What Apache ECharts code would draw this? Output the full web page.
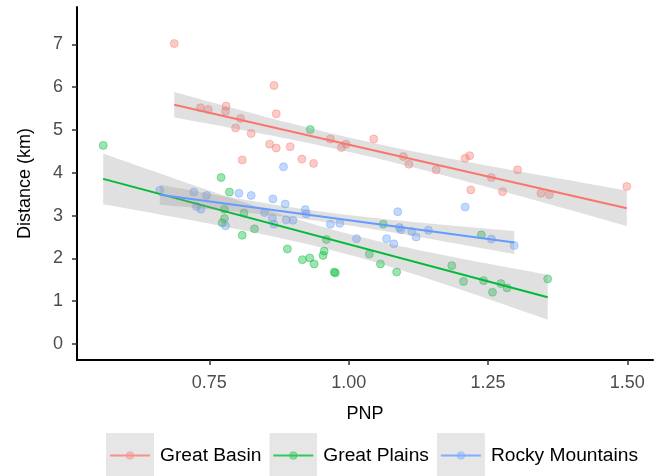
<!DOCTYPE html>
<html><head><meta charset="utf-8">
<script src="https://cdn.jsdelivr.net/npm/echarts@6/dist/echarts.min.js"></script>
<style>html,body{margin:0;padding:0;background:#fff}#c{width:662px;height:476px}</style>
</head><body><div id="c"></div>
<script>
// ---- data ----
const regions = ['Great Basin', 'Great Plains', 'Rocky Mountains'];
const colors = ['#F8766D', '#00BA38', '#619CFF'];

const basinX = [0.687,0.866,0.734,0.748,0.780,0.779,0.806,0.870,0.797,0.825,0.858,0.870,0.895,0.967,0.987,0.995,1.045,0.809,0.916,0.937,1.098,1.108,1.157,1.209,1.217,1.219,1.256,1.276,1.303,1.345,1.360,1.499];
const basinY = [7.02,6.04,5.52,5.48,5.56,5.44,5.27,5.38,5.05,4.92,4.67,4.58,4.61,4.79,4.59,4.67,4.79,4.30,4.32,4.22,4.38,4.20,4.07,4.34,4.40,3.60,3.89,3.56,4.07,3.52,3.49,3.68];

const plainsX = [0.5595,0.931,0.771,0.786,0.777,0.812,0.777,0.773,0.831,0.809,0.890,0.917,0.930,0.938,0.960,0.956,0.954,0.974,0.976,1.037,1.057,1.086,1.062,1.238,1.185,1.206,1.242,1.258,1.273,1.284,1.357];
const plainsY = [4.64,5.01,3.89,3.55,3.15,3.06,2.93,2.83,2.69,2.54,2.22,1.97,2.01,1.87,2.44,2.17,2.07,1.68,1.66,2.10,1.87,1.68,2.80,2.55,1.83,1.46,1.48,1.21,1.41,1.31,1.52];

const rockyX = [0.661,0.722,0.745,0.803,0.825,0.864,0.886,0.727,0.735,0.849,0.863,0.866,0.888,0.900,0.922,0.924,0.779,0.883,0.967,0.984,1.014,1.068,1.081,1.088,1.091,1.094,1.113,1.121,1.143,1.209,1.256,1.297];
const rockyY = [3.59,3.55,3.47,3.52,3.47,3.39,3.27,3.21,3.15,3.07,2.94,2.80,2.90,2.89,3.14,3.04,2.76,4.14,2.80,2.82,2.46,2.46,2.34,3.09,2.72,2.67,2.63,2.50,2.66,3.20,2.45,2.30];

const xTicks = [0.75, 1.00, 1.25, 1.50];
const yTicks = [0, 1, 2, 3, 4, 5, 6, 7];

const groupsX = [basinX, plainsX, rockyX];
const groupsY = [basinY, plainsY, rockyY];

// ---- linear model fit with 95% CI (like geom_smooth(method = "lm")) ----
function tq975(df) {
  const z = 1.959964;
  return z + (z**3 + z) / (4*df) + (5*z**5 + 16*z**3 + 3*z) / (96*df*df)
           + (3*z**7 + 19*z**5 + 17*z**3 - 15*z) / (384*df**3);
}
function lmFit(xs, ys) {
  const n = xs.length;
  const xm = xs.reduce((a,b)=>a+b,0)/n, ym = ys.reduce((a,b)=>a+b,0)/n;
  let sxx = 0, sxy = 0;
  for (let i=0;i<n;i++){ sxx += (xs[i]-xm)**2; sxy += (xs[i]-xm)*(ys[i]-ym); }
  const b = sxy/sxx, a = ym - b*xm;
  let sse = 0;
  for (let i=0;i<n;i++){ sse += (ys[i] - (a + b*xs[i]))**2; }
  const s = Math.sqrt(sse/(n-2)), t = tq975(n-2);
  const x0 = Math.min(...xs), x1 = Math.max(...xs);
  const upper = [], lower = [];
  const steps = 80;
  for (let k=0;k<steps;k++){
    const x = x0 + (x1-x0)*k/(steps-1);
    const yh = a + b*x;
    const se = s*Math.sqrt(1/n + (x-xm)**2/sxx);
    upper.push([x, yh + t*se]); lower.push([x, yh - t*se]);
  }
  return { line: [[x0, a+b*x0], [x1, a+b*x1]], upper, lower };
}

function rgba(hex, a) {
  const v = parseInt(hex.slice(1), 16);
  return `rgba(${(v>>16)&255},${(v>>8)&255},${v&255},${a})`;
}
function keyIcon(c) {
  const svg = `<svg xmlns="http://www.w3.org/2000/svg" width="48" height="46">` +
    `<rect width="48" height="46" fill="#e0e0e0"/>` +
    `<line x1="4" y1="22.5" x2="44" y2="22.5" stroke="${c}" stroke-width="2"/>` +
    `<circle cx="24" cy="22.5" r="3.8" fill="${c}" fill-opacity="0.5" stroke="${c}" stroke-opacity="0.5" stroke-width="1"/></svg>`;
  return 'image://data:image/svg+xml;charset=utf-8,' + encodeURIComponent(svg);
}

const series = [];
regions.forEach((r, i) => {
  series.push({
    name: r, type: 'scatter', z: 2,
    data: groupsX[i].map((x, j) => [x, groupsY[i][j]]),
    symbol: 'circle', symbolSize: 8,
    itemStyle: { color: rgba(colors[i], 0.48), borderColor: rgba(colors[i], 0.5), borderWidth: 1 },
    emphasis: { disabled: true }, silent: true
  });
});
regions.forEach((r, i) => {
  const f = lmFit(groupsX[i], groupsY[i]);
  series.push({
    name: r + ' CI', type: 'custom', z: 3 + i*2, silent: true,
    data: [[f.line[0][0], f.line[0][1]]],
    renderItem: function (params, api) {
      const pts = f.upper.concat(f.lower.slice().reverse()).map(p => api.coord(p));
      return { type: 'polygon', shape: { points: pts }, style: { fill: 'rgba(153,153,153,0.3)', stroke: null } };
    }
  });
  series.push({
    name: r + ' fit', type: 'line', z: 4 + i*2, silent: true,
    data: f.line, showSymbol: false, symbol: 'none',
    lineStyle: { color: colors[i], width: 2 }
  });
});

const chart = echarts.init(document.getElementById('c'), null, { renderer: 'canvas' });
chart.setOption({
  animation: false,
  backgroundColor: '#ffffff',
  textStyle: { fontFamily: 'Liberation Sans, Arial, sans-serif' },
  grid: { left: 77, right: 9, top: 7, bottom: 116, containLabel: false },
  xAxis: {
    type: 'value', min: 0.5125, max: 1.546,
    name: 'PNP', nameLocation: 'middle', nameGap: 45,
    nameTextStyle: { fontSize: 18, color: '#000' },
    axisLine: { show: true, onZero: false, lineStyle: { color: '#000', width: 2 } },
    axisTick: { show: true, length: 5, customValues: xTicks, lineStyle: { color: '#333', width: 1.5 } },
    axisLabel: { customValues: xTicks, fontSize: 18, color: '#4d4d4d', margin: 14,
                 formatter: v => v.toFixed(2) },
    splitLine: { show: false }
  },
  yAxis: {
    type: 'value', min: -0.375, max: 7.875,
    name: 'Distance (km)', nameLocation: 'middle', nameGap: 43,
    nameTextStyle: { fontSize: 18, color: '#000' },
    axisLine: { show: true, onZero: false, lineStyle: { color: '#000', width: 2 } },
    axisTick: { show: true, length: 5, customValues: yTicks, lineStyle: { color: '#333', width: 1.5 } },
    axisLabel: { customValues: yTicks, fontSize: 18, color: '#4d4d4d', margin: 14,
                 formatter: v => String(Math.round(v)) },
    splitLine: { show: false }
  },
  legend: {
    left: 106, top: 433, padding: 0, orient: 'horizontal',
    itemWidth: 48, itemHeight: 46, itemGap: 8,
    textStyle: { fontSize: 19.2, color: '#000', padding: [0, 0, 0, 1] },
    selectedMode: false,
    data: regions.map((r, i) => ({ name: r, icon: keyIcon(colors[i]) }))
  },
  series: series
});
</script>
</body></html>
